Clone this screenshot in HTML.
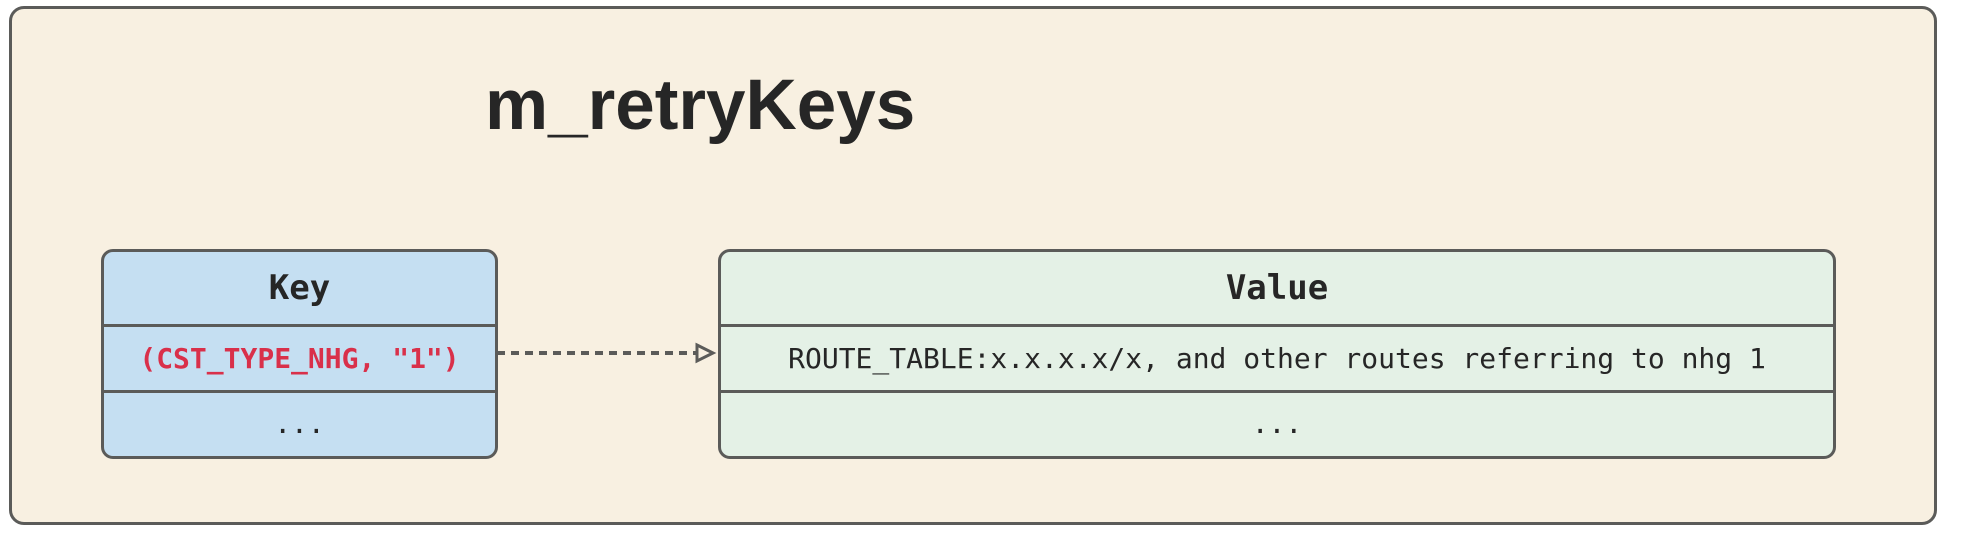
<!DOCTYPE html>
<html><head><meta charset="utf-8"><style>
html,body{margin:0;padding:0;background:#fff;}
body{width:1964px;height:538px;position:relative;overflow:hidden;font-family:"Liberation Sans",sans-serif;}
.outer{position:absolute;left:9px;top:6px;width:1922px;height:513px;background:#f8f0e1;border:3px solid #5b5b59;border-radius:15px;}
.title{position:absolute;left:485px;top:66px;font-size:71px;font-weight:bold;color:#262626;line-height:80px;}
.tbl{position:absolute;top:249px;height:204px;border:3px solid #5b5b59;border-radius:12px;box-sizing:content-box;overflow:hidden;font-family:"DejaVu Sans Mono","Liberation Mono",monospace;color:#262626;}
.row{position:absolute;left:0;right:0;text-align:center;}
.h{top:0;height:72px;line-height:72px;font-weight:bold;font-size:34px;}
.r1{top:72px;height:63px;line-height:63px;font-size:28px;border-top:3px solid #5b5b59;border-bottom:3px solid #5b5b59;}
.r2{top:138px;height:66px;line-height:68px;font-size:28px;}
</style></head><body>
<div class="outer"></div>
<div class="title">m_retryKeys</div>
<div class="tbl" style="left:101px;width:391px;background:#c5dff2;">
  <div class="row h">Key</div>
  <div class="row r1" style="color:#d9304a;font-weight:bold;">(CST_TYPE_NHG, "1")</div>
  <div class="row r2">...</div>
</div>
<div class="tbl" style="left:718px;width:1112px;background:#e4f1e6;">
  <div class="row h">Value</div>
  <div class="row r1">ROUTE_TABLE:x.x.x.x/x, and other routes referring to nhg 1</div>
  <div class="row r2">...</div>
</div>
<svg style="position:absolute;left:0;top:0" width="1964" height="538">
  <line x1="497" y1="353" x2="697" y2="353" stroke="#5b5b59" stroke-width="4" stroke-dasharray="8,6"/>
  <polygon points="697,345 713,353 697,361" fill="#f8f0e1" stroke="#5b5b59" stroke-width="3"/>
</svg>
</body></html>
